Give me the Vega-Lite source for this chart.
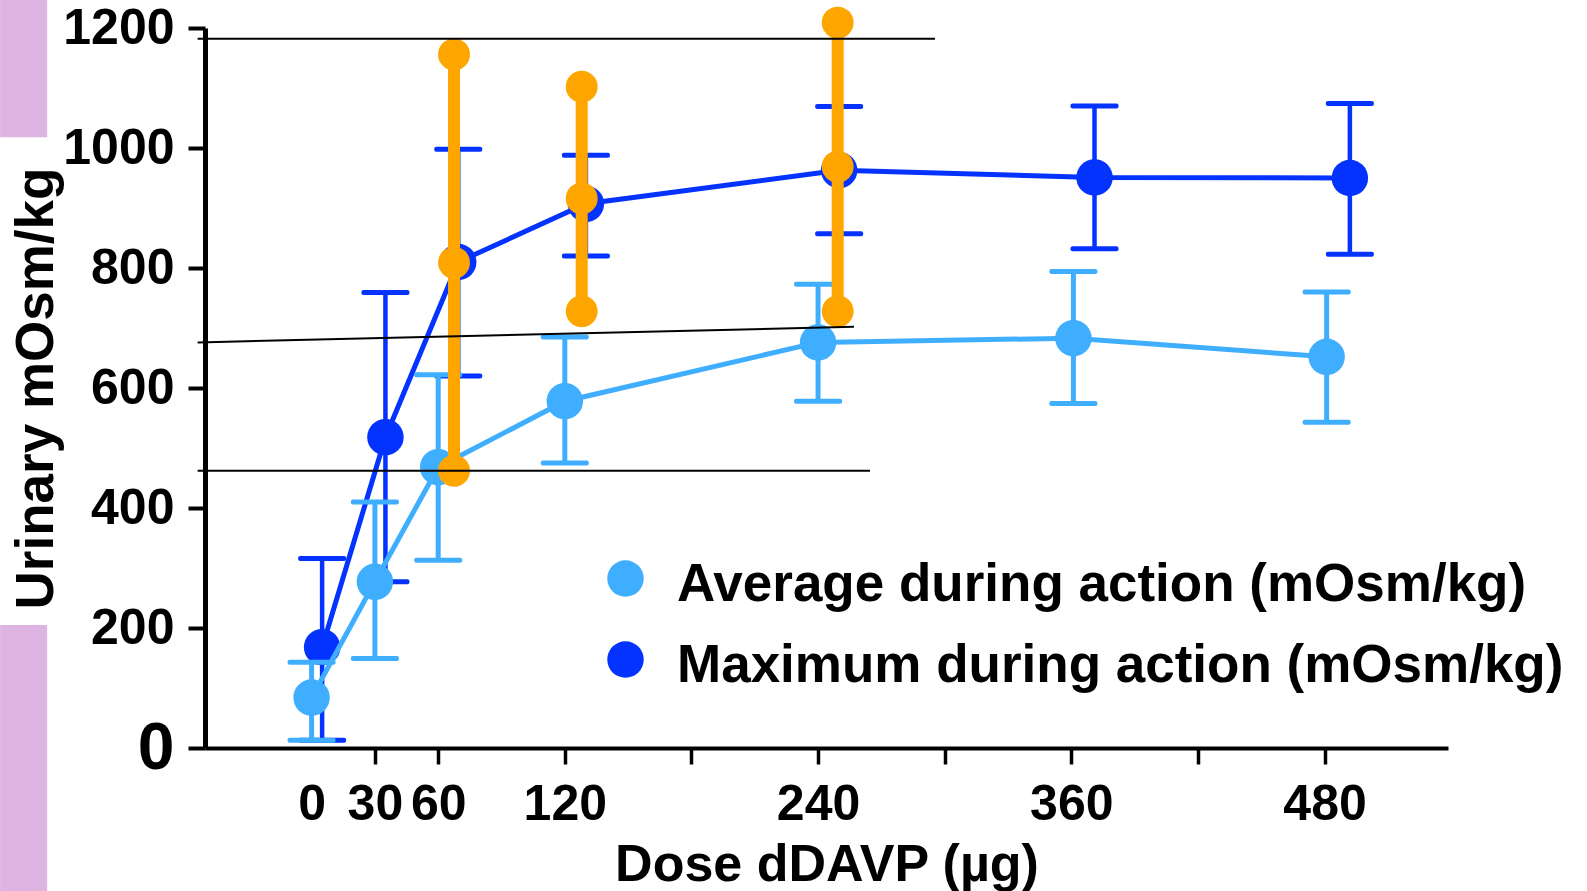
{
  "$schema": "https://vega.github.io/schema/vega-lite/v6.json",
  "width": 1243,
  "height": 720,
  "autosize": {"type": "none"},
  "padding": {"left": 205, "top": 28, "right": 139, "bottom": 143},
  "background": "white",
  "config": {"font": "Liberation Sans", "view": {"stroke": null}, "axis": {"grid": false}},
  "datasets": {
    "avg": [
      {"series": "Average during action (mOsm/kg)", "dose": 0, "value": 84, "lo": 13, "hi": 143},
      {"series": "Average during action (mOsm/kg)", "dose": 30, "value": 277, "lo": 149, "hi": 410},
      {"series": "Average during action (mOsm/kg)", "dose": 60, "value": 468, "lo": 313, "hi": 622},
      {"series": "Average during action (mOsm/kg)", "dose": 120, "value": 578, "lo": 475, "hi": 685},
      {"series": "Average during action (mOsm/kg)", "dose": 240, "value": 676, "lo": 578, "hi": 773},
      {"series": "Average during action (mOsm/kg)", "dose": 361, "value": 683, "lo": 574, "hi": 794},
      {"series": "Average during action (mOsm/kg)", "dose": 481, "value": 652, "lo": 543, "hi": 760}
    ],
    "max": [
      {"series": "Maximum during action (mOsm/kg)", "dose": 5, "value": 168, "lo": 13, "hi": 316},
      {"series": "Maximum during action (mOsm/kg)", "dose": 35, "value": 518, "lo": 277, "hi": 759},
      {"series": "Maximum during action (mOsm/kg)", "dose": 69.5, "value": 810, "lo": 620, "hi": 998},
      {"series": "Maximum during action (mOsm/kg)", "dose": 130, "value": 907, "lo": 820, "hi": 988},
      {"series": "Maximum during action (mOsm/kg)", "dose": 250, "value": 963, "lo": 857, "hi": 1069},
      {"series": "Maximum during action (mOsm/kg)", "dose": 371, "value": 951, "lo": 832, "hi": 1070},
      {"series": "Maximum during action (mOsm/kg)", "dose": 492, "value": 950, "lo": 823, "hi": 1074}
    ],
    "orange": [
      {"dose": 67.5, "value": 1156},
      {"dose": 67.5, "value": 809},
      {"dose": 67.5, "value": 462},
      {"dose": 128, "value": 1102},
      {"dose": 128, "value": 916},
      {"dose": 128, "value": 728},
      {"dose": 249.3, "value": 1209},
      {"dose": 249.3, "value": 969},
      {"dose": 249.3, "value": 728}
    ],
    "refs": [
      {"x0": -54, "x1": 295.4, "y0": 1182, "y1": 1182},
      {"x0": -54, "x1": 257, "y0": 676, "y1": 702},
      {"x0": -54, "x1": 264.6, "y0": 462, "y1": 462}
    ],
    "boxes": [
      {"x0": -147.6, "x1": -125.3, "y0": 1018, "y1": 1247},
      {"x0": -147.6, "x1": -125.3, "y0": -239, "y1": 205}
    ]
  },
  "layer": [
    {
      "data": {"name": "boxes"},
      "mark": {"type": "rect", "color": "#DDB4E2"},
      "encoding": {
        "x": {"field": "x0", "type": "quantitative", "scale": {"domain": [-50.5, 538.5], "nice": false, "zero": false},
          "axis": {
            "title": "Dose dDAVP (µg)",
            "values": [0, 30, 60, 120, 180, 240, 300, 360, 420, 480],
            "format": "d",
            "labelExpr": "indexof([180,300,420], datum.value) >= 0 ? '' : datum.label",
            "domainColor": "black", "domainWidth": 4,
            "tickColor": "black", "tickWidth": 3.5, "tickSize": 16,
            "tickOpacity": {"condition": {"test": "datum.value === 0", "value": 0}, "value": 1},
            "labelFontSize": 50, "labelFontWeight": "bold", "labelColor": "black", "labelPadding": 15,
            "labelOverlap": false, "labelFlush": false, "labelBound": false,
            "titleFontSize": 52, "titleFontWeight": "bold", "titleColor": "black", "titlePadding": 10
          }
        },
        "x2": {"field": "x1"},
        "y": {"field": "y0", "type": "quantitative", "scale": {"domain": [0, 1200], "nice": false, "zero": false},
          "axis": {
            "title": "Urinary mOsm/kg",
            "values": [0, 200, 400, 600, 800, 1000, 1200],
            "format": "d",
            "domainColor": "black", "domainWidth": 5,
            "tickColor": "black", "tickWidth": 4, "tickSize": 17,
            "labelFontSize": {"condition": {"test": "datum.value === 0", "value": 66}, "value": 50},
            "labelFontWeight": "bold", "labelColor": "black", "labelPadding": 14,
            "labelOverlap": false, "labelFlush": false, "labelBound": false,
            "titleFontSize": 53, "titleFontWeight": "bold", "titleColor": "black", "titlePadding": -1
          }
        },
        "y2": {"field": "y1"}
      }
    },
    {
      "data": {"name": "max"},
      "mark": {"type": "line", "color": "#0433FF", "strokeWidth": 5},
      "encoding": {
        "x": {"field": "dose", "type": "quantitative", "scale": {"domain": [-50.5, 538.5], "nice": false, "zero": false}},
        "y": {"field": "value", "type": "quantitative", "scale": {"domain": [0, 1200], "nice": false, "zero": false}}
      }
    },
    {
      "data": {"name": "max"},
      "mark": {"type": "rule", "color": "#0433FF", "strokeWidth": 4.5},
      "encoding": {
        "x": {"field": "dose", "type": "quantitative", "scale": {"domain": [-50.5, 538.5], "nice": false, "zero": false}},
        "y": {"field": "lo", "type": "quantitative", "scale": {"domain": [0, 1200], "nice": false, "zero": false}},
        "y2": {"field": "hi"}
      }
    },
    {
      "data": {"name": "max"},
      "mark": {"type": "tick", "orient": "horizontal", "color": "#0433FF", "size": 48, "thickness": 5, "opacity": 1, "cornerRadius": 2},
      "encoding": {
        "x": {"field": "dose", "type": "quantitative", "scale": {"domain": [-50.5, 538.5], "nice": false, "zero": false}},
        "y": {"field": "lo", "type": "quantitative", "scale": {"domain": [0, 1200], "nice": false, "zero": false}}
      }
    },
    {
      "data": {"name": "max"},
      "mark": {"type": "tick", "orient": "horizontal", "color": "#0433FF", "size": 48, "thickness": 5, "opacity": 1, "cornerRadius": 2},
      "encoding": {
        "x": {"field": "dose", "type": "quantitative", "scale": {"domain": [-50.5, 538.5], "nice": false, "zero": false}},
        "y": {"field": "hi", "type": "quantitative", "scale": {"domain": [0, 1200], "nice": false, "zero": false}}
      }
    },
    {
      "data": {"name": "max"},
      "mark": {"type": "point", "shape": "circle", "filled": true, "opacity": 1, "size": 1330, "strokeWidth": 0},
      "encoding": {
        "x": {"field": "dose", "type": "quantitative", "scale": {"domain": [-50.5, 538.5], "nice": false, "zero": false}},
        "y": {"field": "value", "type": "quantitative", "scale": {"domain": [0, 1200], "nice": false, "zero": false}},
        "color": {"field": "series", "type": "nominal",
          "scale": {"domain": ["Average during action (mOsm/kg)", "Maximum during action (mOsm/kg)"], "range": ["#40AEFF", "#0433FF"]},
          "legend": {"title": null, "orient": "none", "legendX": 394, "legendY": 524, "symbolType": "circle", "symbolSize": 1330,
            "symbolStrokeWidth": 0, "symbolOpacity": 1, "labelFontSize": 53, "labelFontWeight": "bold", "labelFont": "Liberation Sans",
            "labelColor": "black", "labelOffset": 25, "labelLimit": 0, "rowPadding": 21, "padding": 0, "offset": 0,
            "encode": {"labels": {"update": {"dy": {"value": 6}}}}}
        }
      }
    },
    {
      "data": {"name": "avg"},
      "mark": {"type": "line", "color": "#40AEFF", "strokeWidth": 5},
      "encoding": {
        "x": {"field": "dose", "type": "quantitative", "scale": {"domain": [-50.5, 538.5], "nice": false, "zero": false}},
        "y": {"field": "value", "type": "quantitative", "scale": {"domain": [0, 1200], "nice": false, "zero": false}}
      }
    },
    {
      "data": {"name": "avg"},
      "mark": {"type": "rule", "color": "#40AEFF", "strokeWidth": 5},
      "encoding": {
        "x": {"field": "dose", "type": "quantitative", "scale": {"domain": [-50.5, 538.5], "nice": false, "zero": false}},
        "y": {"field": "lo", "type": "quantitative", "scale": {"domain": [0, 1200], "nice": false, "zero": false}},
        "y2": {"field": "hi"}
      }
    },
    {
      "data": {"name": "avg"},
      "mark": {"type": "tick", "orient": "horizontal", "color": "#40AEFF", "size": 48, "thickness": 5, "opacity": 1, "cornerRadius": 2},
      "encoding": {
        "x": {"field": "dose", "type": "quantitative", "scale": {"domain": [-50.5, 538.5], "nice": false, "zero": false}},
        "y": {"field": "lo", "type": "quantitative", "scale": {"domain": [0, 1200], "nice": false, "zero": false}}
      }
    },
    {
      "data": {"name": "avg"},
      "mark": {"type": "tick", "orient": "horizontal", "color": "#40AEFF", "size": 48, "thickness": 5, "opacity": 1, "cornerRadius": 2},
      "encoding": {
        "x": {"field": "dose", "type": "quantitative", "scale": {"domain": [-50.5, 538.5], "nice": false, "zero": false}},
        "y": {"field": "hi", "type": "quantitative", "scale": {"domain": [0, 1200], "nice": false, "zero": false}}
      }
    },
    {
      "data": {"name": "avg"},
      "mark": {"type": "point", "shape": "circle", "filled": true, "opacity": 1, "size": 1330, "strokeWidth": 0},
      "encoding": {
        "x": {"field": "dose", "type": "quantitative", "scale": {"domain": [-50.5, 538.5], "nice": false, "zero": false}},
        "y": {"field": "value", "type": "quantitative", "scale": {"domain": [0, 1200], "nice": false, "zero": false}},
        "color": {"field": "series", "type": "nominal",
          "scale": {"domain": ["Average during action (mOsm/kg)", "Maximum during action (mOsm/kg)"], "range": ["#40AEFF", "#0433FF"]},
          "legend": {"title": null, "orient": "none", "legendX": 394, "legendY": 524, "symbolType": "circle", "symbolSize": 1330,
            "symbolStrokeWidth": 0, "symbolOpacity": 1, "labelFontSize": 53, "labelFontWeight": "bold", "labelFont": "Liberation Sans",
            "labelColor": "black", "labelOffset": 25, "labelLimit": 0, "rowPadding": 21, "padding": 0, "offset": 0,
            "encode": {"labels": {"update": {"dy": {"value": 6}}}}}
        }
      }
    },
    {
      "data": {"name": "orange"},
      "mark": {"type": "rule", "color": "#FFA500", "strokeWidth": 12},
      "encoding": {
        "x": {"field": "dose", "type": "quantitative", "scale": {"domain": [-50.5, 538.5], "nice": false, "zero": false}},
        "y": {"aggregate": "min", "field": "value", "type": "quantitative", "scale": {"domain": [0, 1200], "nice": false, "zero": false}},
        "y2": {"aggregate": "max", "field": "value"}
      }
    },
    {
      "data": {"name": "orange"},
      "mark": {"type": "point", "shape": "circle", "filled": true, "opacity": 1, "size": 1018, "strokeWidth": 0, "color": "#FFA500"},
      "encoding": {
        "x": {"field": "dose", "type": "quantitative", "scale": {"domain": [-50.5, 538.5], "nice": false, "zero": false}},
        "y": {"field": "value", "type": "quantitative", "scale": {"domain": [0, 1200], "nice": false, "zero": false}}
      }
    },
    {
      "data": {"name": "refs"},
      "mark": {"type": "rule", "color": "black", "strokeWidth": 2},
      "encoding": {
        "x": {"field": "x0", "type": "quantitative", "scale": {"domain": [-50.5, 538.5], "nice": false, "zero": false}},
        "x2": {"field": "x1"},
        "y": {"field": "y0", "type": "quantitative", "scale": {"domain": [0, 1200], "nice": false, "zero": false}},
        "y2": {"field": "y1"}
      }
    }
  ]
}
